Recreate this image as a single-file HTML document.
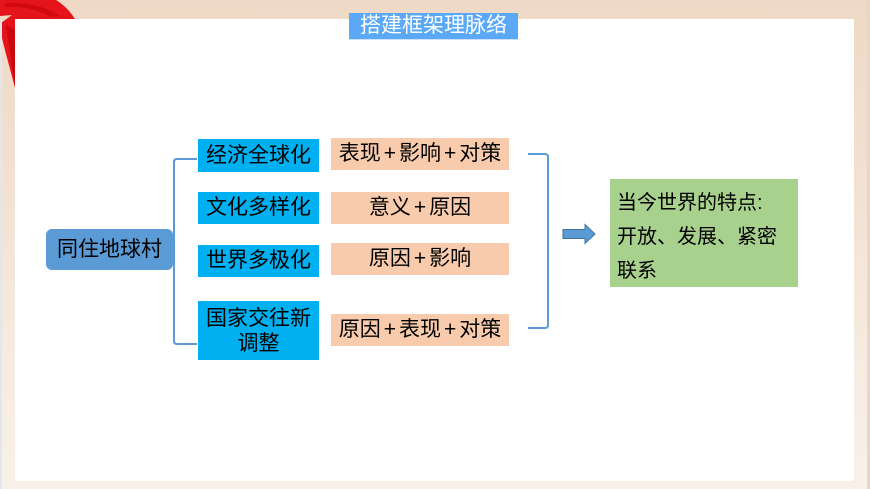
<!DOCTYPE html>
<html><head><meta charset="utf-8">
<style>
html,body{margin:0;padding:0;}
body{width:870px;height:489px;position:relative;overflow:hidden;
background:linear-gradient(to bottom,#efd9c6 0px,#f1dfcf 150px,#f6ebe1 350px,#f8f0e8 489px);
font-family:"Liberation Sans","Noto Sans CJK SC",sans-serif;}
.abs{position:absolute;}
.panel{left:15px;top:19px;width:839px;height:462px;background:#fff;}
.title{left:349px;top:13px;width:169px;height:26px;background:#5aa8f6;color:#fff;font-size:21px;line-height:26px;text-align:center;letter-spacing:0px;border-bottom:1px solid #cfe2f5;}
.root{left:46px;top:229px;width:127px;height:41px;background:#5b9bd5;border-radius:6px;font-size:21px;line-height:41px;text-align:center;color:#000;}
.b{left:198px;width:121px;background:#00b0f0;font-size:21px;text-align:center;color:#000;}
.pch{left:331px;width:178px;height:32px;background:#f8cbad;font-size:21px;line-height:32px;text-align:center;color:#000;}
.p{margin:0 3px;}
.green{left:610px;top:179px;width:181px;height:108px;background:#a9d18e;padding-left:7px;padding-top:7px;box-sizing:content-box;height:101px;font-size:20px;line-height:34px;color:#000;white-space:nowrap;}
</style></head><body>
<svg class="abs" style="left:0;top:0" width="90" height="100" viewBox="0 0 90 100">
<path d="M0,0 L56,0 C64,5 70,11 75,19 L15,19 L15,88 C11,72 6,55 2,38 L1,23 L12,15 L0,16 Z" fill="#e5141b"/>
<path d="M5,3 C25,2 45,6 60,16 L50,17 C38,9 22,6 5,7 Z" fill="#c40008" opacity="0.6"/>
<path d="M6,25 C9,45 12,65 15,86 L15,30 Z" fill="#b80006" opacity="0.6"/>
</svg>
<div class="abs" style="left:0;top:20px;width:2px;height:469px;background:#e3e6ec"></div>
<div class="abs" style="left:867px;top:0;width:3px;height:489px;background:#e9d6c8"></div>
<div class="abs panel"></div>
<div class="abs title">搭建框架理脉络</div>

<div class="abs root">同住地球村</div>

<svg class="abs" style="left:0;top:0" width="870" height="489">
<path d="M197,159 L177,159 Q174,159 174,162 L174,341 Q174,344 177,344 L197,344" fill="none" stroke="#5b9bd5" stroke-width="2"/>
<path d="M528,154 L545,154 Q548,154 548,157 L548,325 Q548,328 545,328 L528,328" fill="none" stroke="#5b9bd5" stroke-width="2"/>
<path d="M563,229.5 L585,229.5 L585,224.5 L595,234 L585,243.5 L585,238.5 L563,238.5 Z" fill="#5b9bd5" stroke="#41719c" stroke-width="1"/>
</svg>

<div class="abs b" style="top:139px;height:33px;line-height:33px;">经济全球化</div>
<div class="abs b" style="top:192px;height:32px;line-height:32px;">文化多样化</div>
<div class="abs b" style="top:245px;height:32px;line-height:32px;">世界多极化</div>
<div class="abs b" style="top:301px;height:59px;line-height:25px;padding-top:5px;box-sizing:border-box;">国家交往新<br>调整</div>

<div class="abs pch" style="top:138px;">表现<span class="p">+</span>影响<span class="p">+</span>对策</div>
<div class="abs pch" style="top:192px;">意义<span class="p">+</span>原因</div>
<div class="abs pch" style="top:243px;">原因<span class="p">+</span>影响</div>
<div class="abs pch" style="top:314px;">原因<span class="p">+</span>表现<span class="p">+</span>对策</div>

<div class="abs green">当今世界的特点:<br>开放、发展、紧密<br>联系</div>
</body></html>
